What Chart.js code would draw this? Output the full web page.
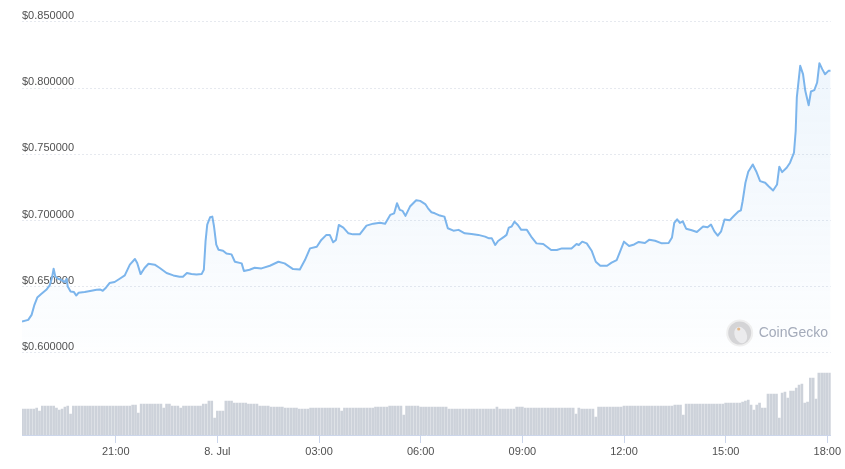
<!DOCTYPE html>
<html><head><meta charset="utf-8">
<script src="https://cdn.jsdelivr.net/npm/chart.js@4"></script>
<style>html,body{margin:0;padding:0;background:#fff;overflow:hidden}canvas{display:block}</style>
</head><body>
<canvas id="c" width="845" height="469"></canvas>
<script>
// minutes after 7 Jul 18:00
const priceTimes = [
14,25,31,36,41,48,57,63,67,70,73,78,84,90,93,95,100,106,110,114,125,137,146,152,157,163,169,178,187,196,205,214,218,224,231,238,249,258,270,282,293,299,306,314,323,332,336,339,342,347,351,354,358,362,370,
376,385,391,403,407,417,426,438,453,468,479,494,506,515,524,536,544,553,559,565,570,575,583,592,600,612,624,636,648,657,666,673,678,683,688,693,701,712,719,728,
733,739,745,754,762,768,778,787,798,810,822,834,841,846,852,857,868,872,876,881,886,892,898,908,917,925,937,951,961,970,987,996,1000,1006,1014,1023,1030,1038,1050,1058,1067,1073,1080,1089,1098,
1106,1117,1125,1135,1147,1159,1165,1169,1174,1179,1184,1190,1200,1209,1220,1228,1234,1240,1246,1252,1258,1267,1274,1283,1287,1290,1295,1300,1308,1314,1321,1330,1336,1344,1351,1355,1360,1368,1374,1381,1384,1386,1392,1397,1401,1407,1411,1417,1422,1426,1431,1436,1442,1446
];
const priceValues = [
.6237,.6250,.6288,.6364,.6419,.6445,.6477,.6510,.6566,.6636,.6578,.6561,.6551,.6536,.6561,.6502,.6464,.6460,.6434,.6455,.6460,.6470,.6477,.6480,.6470,.6495,.6528,.6536,.6561,.6586,.6667,.6710,.6680,.6596,.6642,.6674,.6667,.6642,.6604,.6586,.6576,.6576,.6604,.6596,.6593,.6596,.6629,.6843,.6970,.7025,.7030,.6957,.6818,.6780,.6773,
.6752,.6745,.6689,.6677,.6619,.6629,.6644,.6639,.6659,.6689,.6677,.6634,.6631,.6702,.6790,.6803,.6854,.6892,.6892,.6836,.6854,.6967,.6947,.6904,.6896,.6896,.6962,.6977,.6983,.6977,.7043,.7055,.7131,.7081,.7073,.7036,.7106,.7154,.7149,.7125,
.7093,.7063,.7055,.7038,.7030,.6942,.6924,.6930,.6904,.6899,.6892,.6879,.6866,.6866,.6816,.6846,.6879,.6892,.6947,.6955,.6992,.6967,.6930,.6930,.6871,.6828,.6823,.6778,.6778,.6790,.6790,.6823,.6816,.6841,.6828,.6770,.6689,.6659,.6659,.6682,.6702,.6765,.6841,.6808,.6820,
.6839,.6831,.6856,.6848,.6828,.6831,.6873,.6983,.7010,.6983,.6995,.6939,.6927,.6914,.6955,.6949,.6970,.6919,.6886,.6919,.7008,.7002,.7033,.7070,.7078,.7146,.7286,.7369,.7424,.7373,.7298,.7286,.7260,.7227,.7273,.7407,.7366,.7399,.7437,.7513,.7677,.7930,.8169,.8106,.7980,.7871,.7975,.7985,.8043,.8189,.8144,.8106,.8131,.8131
];
// volume bars: one every 5 minutes, starting 18:15
const volumeStart = 15;
const volumeStep = 5;
const volumeValues = [
26,26,26,26,26,27,24,29,29,29,
29,29,27,25,26,28,29,21,29,29,
29,29,29,29,29,29,29,29,29,29,
29,29,29,29,29,29,29,29,29,30,
30,22,31,31,31,31,31,31,31,31,
27,31,31,29,29,29,27,29,29,29,
29,29,29,29,31,31,34,34,17,24,
24,24,34,34,34,32,32,32,32,32,
31,31,31,31,29,29,29,29,28,28,
28,28,28,27,27,27,27,27,26,26,
26,26,27,27,27,27,27,27,27,27,
27,27,27,24,27,27,27,27,27,27,
27,27,27,27,27,28,28,28,28,28,
29,29,29,29,29,20,29,29,29,29,
29,28,28,28,28,28,28,28,28,28,
28,26,26,26,26,26,26,26,26,26,
26,26,26,26,26,26,26,26,28,26,
26,26,26,26,26,28,28,28,27,27,
27,27,27,27,27,27,27,27,27,27,
27,27,27,27,27,27,21,27,26,26,
26,26,26,18,28,28,28,28,28,28,
28,28,28,29,29,29,29,29,29,29,
29,29,29,29,29,29,29,29,29,29,
29,30,30,30,20,31,31,31,31,31,
31,31,31,31,31,31,31,31,31,32,
32,32,32,32,32,33,34,35,30,25,
30,32,27,27,41,41,41,41,17,42,
43,37,44,44,47,50,51,32,33,57,
57,36,62,62,62,62,62
];
const yTickValues = [0.6, 0.65, 0.7, 0.75, 0.8, 0.85];
const xTickValues = [180, 360, 540, 720, 900, 1080, 1260, 1440];
const xTickLabels = ['21:00', '8. Jul', '03:00', '06:00', '09:00', '12:00', '15:00', '18:00'];

const priceData = priceTimes.map((t, i) => ({x: t, y: priceValues[i]}));
const volumeData = volumeValues.map((v, i) => ({x: volumeStart + i * volumeStep, y: v}));

const FONT = '"Liberation Sans", Arial, sans-serif';

const watermark = {
  id: 'watermark',
  afterDatasetsDraw(chart) {
    const ctx = chart.ctx;
    const a = chart.chartArea;
    const cx = a.right - 91, cy = 333;
    ctx.save();
    ctx.beginPath(); ctx.arc(cx, cy, 13.5, 0, Math.PI * 2);
    ctx.fillStyle = '#efefef'; ctx.fill();
    ctx.beginPath(); ctx.arc(cx, cy, 11.5, 0, Math.PI * 2);
    ctx.fillStyle = '#d4d4d6'; ctx.fill();
    ctx.beginPath(); ctx.ellipse(cx + 1, cy + 2, 6, 8.5, -0.4, 0, Math.PI * 2);
    ctx.fillStyle = '#ebebed'; ctx.fill();
    ctx.beginPath(); ctx.arc(cx - 1, cy - 4, 1.6, 0, Math.PI * 2);
    ctx.fillStyle = '#e3b98d'; ctx.fill();
    ctx.font = '14px ' + FONT;
    ctx.fillStyle = '#a4abba';
    ctx.textBaseline = 'middle';
    ctx.textAlign = 'left';
    ctx.fillText('CoinGecko', cx + 19, cy);
    ctx.restore();
  }
};

new Chart(document.getElementById('c'), {
  type: 'line',
  data: {
    datasets: [
      {
        type: 'line',
        data: priceData,
        yAxisID: 'y',
        borderColor: '#7cb5ec',
        borderWidth: 2,
        pointRadius: 0,
        tension: 0,
        borderJoinStyle: 'round',
        fill: 'start',
        backgroundColor: (c) => {
          const a = c.chart.chartArea;
          if (!a) return 'rgba(124,181,236,0.08)';
          const g = c.chart.ctx.createLinearGradient(0, a.top, 0, a.bottom);
          g.addColorStop(0, 'rgba(124,181,236,0.14)');
          g.addColorStop(0.5, 'rgba(124,181,236,0.07)');
          g.addColorStop(0.78, 'rgba(124,181,236,0.02)');
          g.addColorStop(0.82, 'rgba(124,181,236,0)');
          return g;
        },
        order: 1
      },
      {
        type: 'bar',
        data: volumeData,
        yAxisID: 'yv',
        backgroundColor: '#cdd2da',
        barThickness: 2,
        order: 2
      }
    ]
  },
  options: {
    responsive: false,
    animation: false,
    devicePixelRatio: 1,
    layout: {padding: {left: 22, right: 14.3, top: 10, bottom: 8.8}},
    plugins: {legend: {display: false}, tooltip: {enabled: false}},
    scales: {
      x: {
        type: 'linear',
        min: priceTimes[0],
        max: priceTimes[priceTimes.length - 1],
        offset: false,
        afterBuildTicks: (s) => { s.ticks = xTickValues.map(v => ({value: v})); },
        afterFit: (s) => { s.paddingLeft = 0; s.paddingRight = 0; },
        ticks: {
          autoSkip: false, maxRotation: 0, padding: 2,
          color: '#505050', font: {size: 11, family: FONT},
          callback: (v) => xTickLabels[xTickValues.indexOf(v)]
        },
        grid: {offset: false, drawOnChartArea: false, drawTicks: true, tickLength: 8, color: '#ccd6eb'},
        border: {display: true, color: '#ccd6eb'}
      },
      y: {
        position: 'left',
        min: 0.538066,
        max: 0.859063,
        afterBuildTicks: (s) => { s.ticks = yTickValues.map(v => ({value: v})); },
        afterFit: (s) => { s.width = 0; s.paddingTop = 0; s.paddingBottom = 0; },
        ticks: {
          mirror: true, padding: 0, labelOffset: -6,
          color: '#505050', font: {size: 11, family: FONT},
          callback: (v) => '$' + Number(v).toFixed(6)
        },
        grid: {drawTicks: false, color: '#e6e9ef', lineWidth: 1},
        border: {display: false, dash: [2, 2]}
      },
      yv: {
        display: false,
        min: 0,
        max: 425
      }
    }
  },
  plugins: [watermark]
});
</script>
</body></html>
